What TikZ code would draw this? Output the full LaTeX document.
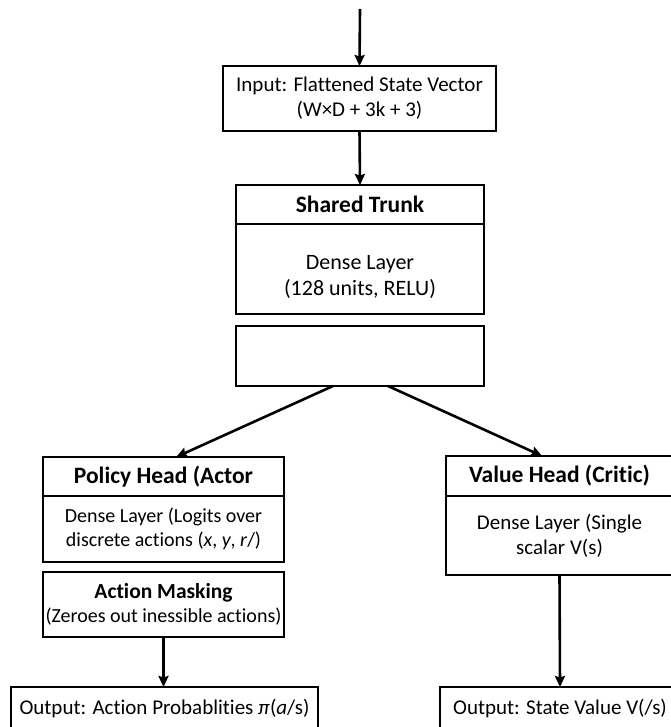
\documentclass[tikz,border=0pt]{standalone}
\usepackage{fontspec}
\setmainfont{Carlito}[Ligatures=NoCommon]
\usetikzlibrary{arrows.meta}
\newlength{\du}
\setlength{\du}{1pt}

\begin{document}
\begin{tikzpicture}[even odd rule,
  box/.style={draw=black, line width=2.6\du, inner sep=0pt, outer sep=0pt, align=center,
    font=\fontsize{20}{24.5}\selectfont},
  bigbox/.style={box, font=\fontsize{21}{25}\selectfont},
  headbox/.style={box, font=\bfseries\fontsize{23.5}{27}\selectfont},
  arr/.style={draw=black, line width=2.6\du, -{Stealth[length=11pt,width=10pt,inset=1.5pt]}}]
\pgftransformxscale{1.000000}
\pgftransformyscale{-1.000000}
\useasboundingbox[fill=white] (0\du,0\du) rectangle (670\du,727\du);
% input
\coordinate (top) at (360\du,9\du);
\node[bigbox, minimum width=273\du, minimum height=65\du] (input) at (359.5\du,98.5\du) {Input: Flattened State Vector\\(W×D + 3k + 3)};
% shared trunk
\node[headbox, minimum width=248\du, minimum height=39\du] (trunkhead) at (360\du,204.5\du) {Shared Trunk};
\node[box, font=\fontsize{22}{26}\selectfont, minimum width=248\du, minimum height=90\du] (trunkbody) at (360\du,269\du) {\rule{0pt}{30\du}Dense Layer\\(128 units, RELU)};
\node[box, minimum width=248\du, minimum height=60\du] (gap) at (360\du,356\du) {};
% policy side
\node[headbox, minimum width=241\du, minimum height=39\du] (phead) at (163.5\du,476.5\du) {Policy Head (Actor};
\node[box, minimum width=241\du, minimum height=66\du] (pbody) at (163.5\du,529\du) {Dense Layer (Logits over\\discrete actions (\textit{x}, \textit{y}, \textit{r}/)};
\node[box, minimum width=241\du, minimum height=65\du] (mask) at (163.5\du,604.5\du) {{\bfseries\fontsize{21.5}{25}\selectfont Action Masking}\\(Zeroes out inessible actions)};
\node[bigbox, minimum width=307\du, minimum height=44\du] (pout) at (164.5\du,709\du) {Output: Action Probablities \textit{π}(\textit{a}/s)};
% value side
\node[headbox, minimum width=227\du, minimum height=40\du] (vhead) at (559.5\du,476\du) {Value Head (Critic)};
\node[bigbox, minimum width=227\du, minimum height=79\du] (vbody) at (559.5\du,535.5\du) {Dense Layer (Single\\scalar V(s)};
\node[bigbox, minimum width=240\du, minimum height=44\du] (vout) at (560\du,709\du) {Output: State Value V(/s)};
% connectors
\draw[arr] (top) -- (input.north);
\draw[arr] (input.south) -- (trunkhead.north);
\draw[arr] (gap.-132) -- (phead.57);
\draw[arr] (gap.-47) -- (vhead.131);
\draw[arr] (mask.south) -- (mask.south |- pout.north);
\draw[arr] (vbody.south) -- (vout.north);
\end{tikzpicture}
\end{document}
